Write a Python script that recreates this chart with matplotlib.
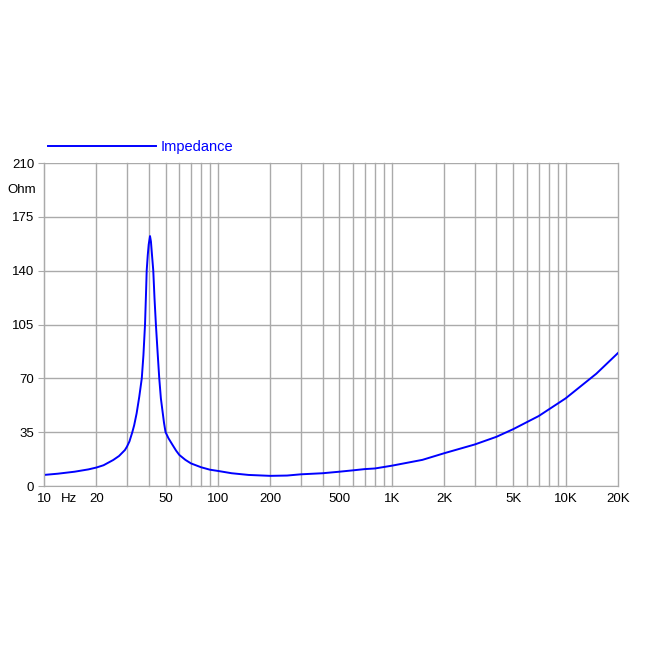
import numpy as np
from matplotlib import pyplot as plt
from matplotlib import transforms

plt.rcParams['font.family'] = ['Liberation Sans', 'DejaVu Sans']

# impedance curve
freq = [10, 12, 15, 18, 20, 22, 25, 27, 29.2, 30, 31, 32.2, 33, 34.1, 35.3, 36.5, 37.3,
        38.1, 38.6, 38.95, 39.5, 40, 40.7, 41.2, 41.8, 42.5, 43.2, 44, 45, 46, 47, 48.2,
        49, 50, 51, 52, 55, 57.5, 60, 65, 70, 80, 90,
        100, 120, 150, 200, 250, 300, 400, 500, 600, 700, 800, 1000, 1500, 2000,
        3000, 4000, 5000, 7000, 10000, 15000, 20000]
ohm = [7.2, 8.0, 9.3, 10.8, 12.0, 13.5, 16.9, 19.5, 23.4, 25.6, 29.0, 35.0, 39.5, 47.3,
       58.0, 70.0, 85.0, 105.0, 125.0, 140.0, 150.0, 157.0, 162.5, 159.0, 150.0, 140.0,
       122.0, 105.0, 87.0, 70.0, 57.0, 47.3, 41.0, 35.0, 33.0, 31.0, 26.5, 23.0, 20.2,
       17.0, 14.7, 12.2, 10.6,
       9.8, 8.3, 7.2, 6.6, 6.8, 7.6, 8.3, 9.3, 10.2, 11.0, 11.4, 13.2, 17.0, 21.3,
       27.0, 32.0, 37.0, 45.5, 57.0, 73.0, 86.5]

x_ticks = [10, 20, 50, 100, 200, 500, 1000, 2000, 5000, 10000, 20000]
x_labels = ['10', '20', '50', '100', '200', '500', '1K', '2K', '5K', '10K', '20K']
y_ticks = [0, 35, 70, 105, 140, 175, 210]

grid_col = '#aaaaaa'

fig = plt.figure(figsize=(6.5, 6.5), dpi=100)
ax = fig.add_axes([0.0677, 0.2523, 0.8831, 0.4969])

ax.plot(freq, ohm, color='#0000ff', lw=1.4, label='Impedance')

ax.set_xscale('log')
ax.set_xlim(10, 20000)
ax.set_ylim(0, 210)

# vertical grid on every 1..9 step of each decade
vlines = [m * 10 ** d for d in range(1, 5) for m in range(1, 10) if m * 10 ** d <= 20000]
for v in vlines:
    ax.axvline(v, color=grid_col, lw=1, zorder=0, clip_on=False)
for h in y_ticks:
    ax.axhline(h, color=grid_col, lw=1, zorder=0)

ax.set_xticks(x_ticks)
ax.set_xticklabels(x_labels)
ax.xaxis.set_minor_locator(plt.NullLocator())
ax.set_yticks(y_ticks)
ax.tick_params(axis='x', length=0, pad=5, labelsize=9.5)
ax.tick_params(axis='y', length=4, color=grid_col, pad=3, labelsize=9.5)

for s in ['top', 'right']:
    ax.spines[s].set_visible(False)
for s in ['left', 'bottom']:
    ax.spines[s].set_color(grid_col)

tr = transforms.blended_transform_factory(ax.transData, ax.transAxes)
ax.text(14, -0.021, 'Hz', transform=tr, ha='center', va='top', fontsize=9.5)
tr2 = transforms.blended_transform_factory(ax.transAxes, ax.transData)
ax.text(-0.014, 192.5, 'Ohm', transform=tr2, ha='right', va='center', fontsize=9.5)

ax.legend(loc='lower left', bbox_to_anchor=(-0.008, 1.0), frameon=False,
          fontsize=10.5, handlelength=7.4, handletextpad=0.3, labelcolor='#0000ff',
          borderaxespad=0.2)

plt.savefig('out.png', dpi=100)
